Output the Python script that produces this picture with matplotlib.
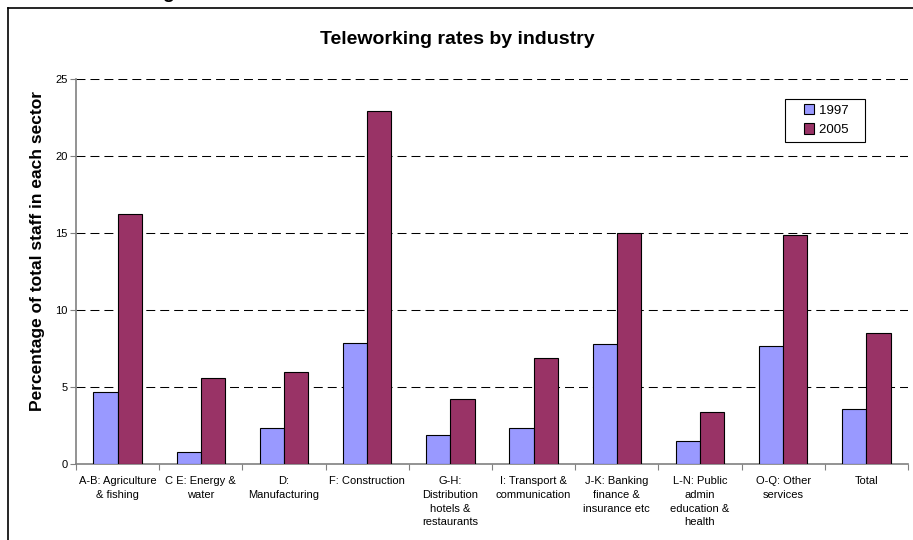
import numpy as np
import matplotlib.pyplot as plt
from matplotlib.lines import Line2D
from matplotlib.patches import Rectangle
from matplotlib.container import BarContainer
from matplotlib.legend_handler import HandlerPatch

plt.rcParams['font.family'] = ['Liberation Sans', 'DejaVu Sans']

categories = ['A-B: Agriculture\n& fishing', 'C E: Energy &\nwater', 'D:\nManufacturing',
              'F: Construction', 'G-H:\nDistribution\nhotels &\nrestaurants',
              'I: Transport &\ncommunication', 'J-K: Banking\nfinance &\ninsurance etc',
              'L-N: Public\nadmin\neducation &\nhealth', 'O-Q: Other\nservices', 'Total']
rates_1997 = [4.67, 0.78, 2.35, 7.86, 1.87, 2.32, 7.8, 1.5, 7.64, 3.56]
rates_2005 = [16.25, 5.56, 6.0, 22.9, 4.21, 6.9, 14.97, 3.39, 14.87, 8.5]
yticks = [0, 5, 10, 15, 20, 25]

W, H = 913, 540
fig = plt.figure(figsize=(W / 100, H / 100), dpi=100)
ax = fig.add_axes([76 / W, 1 - 464 / H, 832 / W, 385 / H])

x = np.arange(len(categories))
bw = 0.29
ax.bar(x - bw / 2, rates_1997, bw, color='#9999FF', edgecolor='black', lw=0.8, label='1997', zorder=3)
ax.bar(x + bw / 2, rates_2005, bw, color='#993366', edgecolor='black', lw=0.8, label='2005', zorder=3)

ax.set_xlim(-0.5, len(categories) - 0.5)
ax.set_ylim(0, 25)
ax.set_yticks(yticks)
for v in yticks[1:]:
    ax.axhline(v, color='black', lw=0.75, ls=(0, (8.6, 4.8)), zorder=1)

ax.set_xticks(np.arange(len(categories) + 1) - 0.5)
ax.set_xticklabels([])
ax.set_xticks(x, minor=True)
ax.set_xticklabels(categories, minor=True, fontsize=8, linespacing=1.45, va='top')
ax.tick_params(axis='x', which='minor', length=0, pad=9)
ax.tick_params(axis='x', which='major', length=4, color='#808080', direction='out')
ax.tick_params(axis='y', labelsize=8, length=4, color='#808080', pad=2)

for s in ['top', 'right']:
    ax.spines[s].set_visible(False)
for s in ['left', 'bottom']:
    ax.spines[s].set_color('#808080')
    ax.spines[s].set_linewidth(1.2)

fig.text(457 / W, 1 - 40 / H, 'Teleworking rates by industry', fontsize=14, fontweight='bold',
         ha='center', va='center')
fig.text(37.5 / W, 1 - 251 / H, 'Percentage of total staff in each sector', fontsize=12.5,
         fontweight='bold', rotation=90, ha='center', va='center')


def small_square(legend, orig_handle, xdescent, ydescent, width, height, fontsize):
    s = 7.5
    return Rectangle((width - s - xdescent, (height - s) / 2 - ydescent), s, s)


def copy_style(handle, orig):
    handle.update_from(orig.patches[0])


leg = ax.legend(loc='upper left', bbox_to_anchor=((785 - 76) / 832, (464 - 99) / 385),
                borderaxespad=0, fontsize=9.5, fancybox=False, framealpha=1,
                handlelength=1.75, handleheight=0.6, handletextpad=0.35,
                labelspacing=0.55, borderpad=0.45,
                handler_map={BarContainer: HandlerPatch(patch_func=small_square,
                                                        update_func=copy_style)})
leg.get_frame().set_edgecolor('black')
leg.get_frame().set_linewidth(0.8)
for t in leg.get_texts():
    t.set_text(t.get_text() + '   ')

# frame of the surrounding sheet, cut by the screenshot
fig.add_artist(Line2D([7.5 / W, 7.5 / W], [0, 1 - 7.5 / H], color='black', lw=1.2))
fig.add_artist(Line2D([7.5 / W, 1], [1 - 7.5 / H, 1 - 7.5 / H], color='black', lw=1.2))
fig.text(168 / W, 1 + 2 / H, 'g', fontsize=14, fontweight='bold', ha='center', va='baseline')

fig.savefig('out.png', dpi=100)
